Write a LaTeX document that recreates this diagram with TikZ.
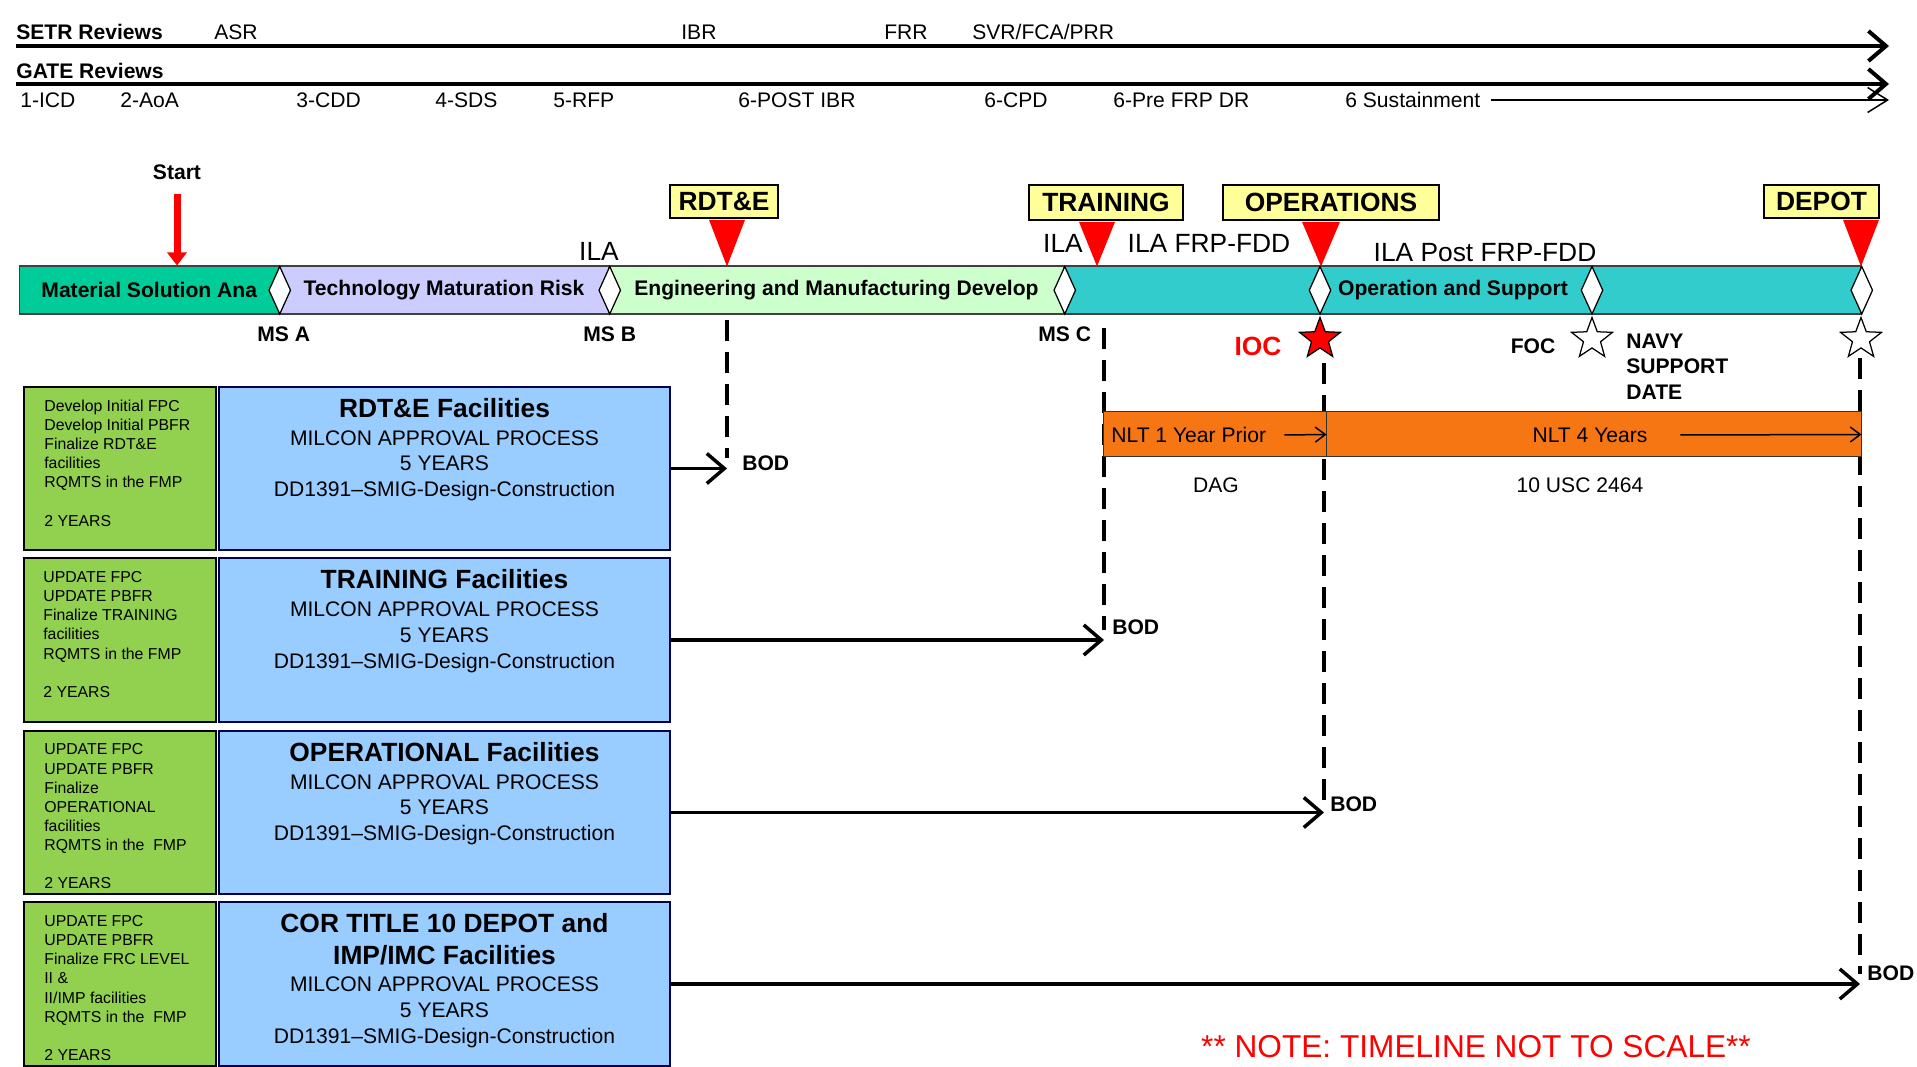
\documentclass[tikz,border=0pt]{standalone}
\usepackage{fontspec}
\setmainfont{Liberation Sans}
\usepackage{tikz}
\usetikzlibrary{shapes.geometric}
\usetikzlibrary{positioning}
\usetikzlibrary{calc}
\usetikzlibrary{arrows.meta}

\definecolor{masgreen}{RGB}{0,204,153}
\definecolor{tmrlilac}{RGB}{204,204,255}
\definecolor{emdgreen}{RGB}{204,255,204}
\definecolor{opsteal}{RGB}{51,204,204}
\definecolor{flagyellow}{RGB}{255,255,153}
\definecolor{reqgreen}{RGB}{146,208,80}
\definecolor{facblue}{RGB}{153,204,255}
\definecolor{nltorange}{RGB}{247,118,20}

\begin{document}
\begin{tikzpicture}
			[
				x = 0.2mm, y = -0.2mm,
				txt/.style = {inner sep = 0, font = \fontsize{12}{14.5}\selectfont},
				btxt/.style = {inner sep = 0, font = \fontsize{12}{14.5}\selectfont\bfseries},
				big/.style = {inner sep = 0, font = \fontsize{15}{18}\selectfont},
				revline/.style = {line width = 0.8mm, -{Straight Barb[length = 3.5mm, width = 6mm]}},
				thinrev/.style = {line width = 0.3mm, -{Straight Barb[length = 4mm, width = 5mm]}},
				phase/.style = {rectangle, draw = black!75, line width = 0.3mm, inner sep = 0, minimum height = 9.6mm, font = \fontsize{12}{14.5}\selectfont\bfseries},
				gatemark/.style = {diamond, draw = black, line width = 0.25mm, fill = white, inner sep = 0, minimum width = 4.4mm, minimum height = 9.6mm},
				startarrow/.style = {red, line width = 1.4mm, -{Triangle[width = 3.8mm, length = 2.6mm]}},
				flag/.style = {rectangle, draw = black, line width = 0.35mm, fill = flagyellow, inner sep = 0, font = \fontsize{15}{18}\selectfont\bfseries},
				msline/.style = {line width = 0.7mm, dash pattern = on 4.2mm off 2.2mm},
				mstar/.style = {star, star points = 5, star point ratio = 2.4, draw = black, line width = 0.25mm, fill = white, minimum size = 8.6mm, inner sep = 0},
				nlt/.style = {rectangle, draw = black!80, line width = 0.2mm, fill = nltorange, inner sep = 0, minimum height = 9mm},
				thinarrow/.style = {line width = 0.3mm, -{Straight Barb[length = 2mm, width = 3mm]}},
				req/.style = {rectangle, draw = black, line width = 0.4mm, fill = reqgreen, minimum width = 38.3mm, minimum height = 32.6mm, inner sep = 0},
				reqtxt/.style = {inner sep = 0, align = left, font = \fontsize{9}{10.9}\selectfont},
				fac/.style = {rectangle, draw = black!70!blue, line width = 0.4mm, fill = facblue, minimum width = 90.2mm, minimum height = 32.6mm, inner sep = 0},
				factxt/.style = {inner sep = 0, align = center, font = \fontsize{12}{14.7}\selectfont},
				bodarrow/.style = {line width = 0.7mm, -{Straight Barb[length = 3.5mm, width = 6mm]}},
			]
			\useasboundingbox (0,0) rectangle (1917,1067);

			\node (setr) [btxt, anchor = west] at (16, 32) {SETR Reviews};
			\node (asr) [txt, anchor = west] at (214, 32) {ASR};
			\node (ibr) [txt, anchor = west] at (681, 32) {IBR};
			\node (frr) [txt, anchor = west] at (884, 32) {FRR};
			\node (svr) [txt, anchor = west] at (972, 32) {SVR/FCA/PRR};
			\coordinate (setrA) at (16, 46);
			\coordinate (setrB) at (1889, 46);
			\draw [revline] (setrA) -- (setrB);

			\node (gate) [btxt, anchor = west] at (16, 71) {GATE Reviews};
			\coordinate (gateA) at (16, 84);
			\coordinate (gateB) at (1889, 84);
			\draw [revline] (gateA) -- (gateB);

			\node (icd) [txt, anchor = west] at (20, 100) {1-ICD};
			\node (aoa) [txt, anchor = west] at (120, 100) {2-AoA};
			\node (cdd) [txt, anchor = west] at (296, 100) {3-CDD};
			\node (sds) [txt, anchor = west] at (435, 100) {4-SDS};
			\node (rfp) [txt, anchor = west] at (553, 100) {5-RFP};
			\node (postibr) [txt, anchor = west] at (738, 100) {6-POST IBR};
			\node (cpd) [txt, anchor = west] at (984, 100) {6-CPD};
			\node (prefrp) [txt, anchor = west] at (1113, 100) {6-Pre FRP DR};
			\node (sust) [txt, anchor = west] at (1345, 100) {6 Sustainment};
			\coordinate (sustB) at (1889, 100);
			\draw [thinrev] ([xshift = 2mm] sust.east) -- (sustB);

			\node (mas) [phase, fill = masgreen, minimum width = 51.9mm] at (149.25, 290.25) {Material Solution Ana};
			\node (tmr) [phase, fill = tmrlilac, minimum width = 66mm] at (444, 290.25) {Technology Maturation Risk};
			\node (emd) [phase, fill = emdgreen, minimum width = 91mm] at (836.5, 290.25) {Engineering and Manufacturing Develop};
			\node (os) [phase, fill = opsteal, minimum width = 159.4mm] at (1462.5, 290.25) {};
			\node (ostext) [btxt] at (1453, 290) {Operation and Support};

			\node (msA) [gatemark] at (mas.east) {};
			\node (msB) [gatemark] at (tmr.east) {};
			\node (msC) [gatemark] at (emd.east) {};
			\node (iocmark) [gatemark] at (1320, 290.25) {};
			\node (focmark) [gatemark] at (1592, 290.25) {};
			\node (nsdmark) [gatemark] at (os.east) {};

			\node (msAlbl) [btxt, below = 2.4mm of msA, xshift = 0.8mm] {MS A};
			\node (msBlbl) [btxt, below = 2.4mm of msB] {MS B};
			\node (msClbl) [btxt, below = 2.4mm of msC] {MS C};

			\node (ilaB) [big] at (599, 251) {ILA};
			\node (ilaC) [big] at (1063, 243) {ILA};
			\node (ilafrp) [big] at (1209, 243) {ILA FRP-FDD};
			\node (ilapost) [big] at (1485, 253) {ILA Post FRP-FDD};

			\node (start) [btxt] at (177, 172) {Start};
			\draw [startarrow] ([yshift = -2.9mm] start.south) -- (start |- mas.north);

			\node (rdte) [flag, minimum width = 21.6mm, minimum height = 6.6mm] at (724, 201.5) {RDT\&E};
			\node (trn) [flag, minimum width = 30.8mm, minimum height = 7mm] at (1106, 202.5) {TRAINING};
			\node (ops) [flag, minimum width = 43.2mm, minimum height = 7mm] at (1331, 202.5) {OPERATIONS};
			\node (dep) [flag, minimum width = 23mm, minimum height = 6.6mm] at (1821.5, 201.5) {DEPOT};

			\coordinate (rdtetip) at (727, 266.5);
			\coordinate (trntip) at (1097, 266.5);
			\coordinate (opstip) at (1321, 266.5);
			\coordinate (deptip) at (1861, 266.5);
			\fill [red] ($(rdtetip |- rdte.south)+(-18,1)$) -- ($(rdtetip |- rdte.south)+(18,1)$) -- (rdtetip) -- cycle;
			\fill [red] ($(trntip |- trn.south)+(-18,1)$) -- ($(trntip |- trn.south)+(18,1)$) -- (trntip) -- cycle;
			\fill [red] ($(opstip |- ops.south)+(-19,1)$) -- ($(opstip |- ops.south)+(19,1)$) -- (opstip) -- cycle;
			\fill [red] ($(deptip |- dep.south)+(-18,1)$) -- ($(deptip |- dep.south)+(18,1)$) -- (deptip) -- cycle;

			\coordinate (rdtetop) at (727, 320);
			\coordinate (rdtebod) at (727, 468.5);
			\coordinate (trntop) at (1104, 328);
			\coordinate (trnbod) at (1104, 640);
			\coordinate (opstop) at (1324, 363);
			\coordinate (opsbod) at (1324, 812.5);
			\coordinate (deptop) at (1860, 358);
			\coordinate (depbod) at (1860, 984);
			\draw [msline] (rdtetop) -- ([yshift = 2mm] rdtebod);
			\draw [msline] (trntop) -- ([yshift = 2mm] trnbod);
			\draw [msline] (opstop) -- ([yshift = 2mm] opsbod);
			\draw [msline] (deptop) -- ([yshift = 2mm] depbod);

			\node (iocstar) [mstar, fill = red] at (1320, 339) {};
			\node (focstar) [mstar] at (1592, 339) {};
			\node (nsdstar) [mstar] at (1861, 339) {};
			\node (ioclbl) [big, red, font = \fontsize{15}{18}\selectfont\bfseries] at (1258, 346) {IOC};
			\node (foclbl) [btxt] at (1533, 346) {FOC};
			\node (navy) [btxt, anchor = west, align = left] at (1626, 366.5) {NAVY\\SUPPORT\\DATE};

			\node (nlt1box) [nlt, minimum width = 44.6mm] at (1214.5, 434.5) {};
			\node (nlt4box) [nlt, minimum width = 107mm] at (1593.5, 434.5) {};
			\node (nlt1) [txt, anchor = west] at (1111, 435) {NLT 1 Year Prior};
			\draw [thinarrow] ([xshift = 3.6mm] nlt1.east) -- (nlt1box.east);
			\node (nlt4) [txt] at (1590, 435) {NLT 4 Years};
			\draw [thinarrow] ([xshift = 6.5mm] nlt4.east) -- (nlt4box.east);
			\node (dag) [txt] at (1216, 485) {DAG};
			\node (usc) [txt] at (1580, 485) {10 USC 2464};

			\node (rdtereq) [req] at (120.25, 468.5) {};
			\node (rdtereqtxt) [reqtxt, below right = 2.7mm and 4.1mm of rdtereq.north west] {Develop Initial FPC\\Develop Initial PBFR\\Finalize RDT\&E\\facilities\\RQMTS in the FMP\\[10.9pt]2 YEARS};
			\node (rdtefac) [fac] at (444.5, 468.5) {};
			\node (rdtetxt) [factxt, below = 2.4mm of rdtefac.north] {{\fontsize{15}{18}\selectfont\bfseries RDT\&E Facilities}\\[1pt]MILCON APPROVAL PROCESS\\5 YEARS\\DD1391–SMIG-Design-Construction};
			\draw [bodarrow] (rdtefac) -- (rdtebod);
			\node (bodR) [btxt, right = 3mm of rdtebod, yshift = 1mm] {BOD};

			\node (trnreq) [req] at (120.25, 640) {};
			\node (trnreqtxt) [reqtxt, below right = 2.7mm and 3.9mm of trnreq.north west] {UPDATE FPC\\UPDATE PBFR\\Finalize TRAINING\\facilities\\RQMTS in the FMP\\[10.9pt]2 YEARS};
			\node (trnfac) [fac] at (444.5, 640) {};
			\node (trntxt) [factxt, below = 2.4mm of trnfac.north] {{\fontsize{15}{18}\selectfont\bfseries TRAINING Facilities}\\[1pt]MILCON APPROVAL PROCESS\\5 YEARS\\DD1391–SMIG-Design-Construction};
			\draw [bodarrow] (trnfac) -- (trnbod);
			\node (bodT) [btxt, above right = 1mm and 1.6mm of trnbod] {BOD};

			\node (opsreq) [req] at (120.25, 812.5) {};
			\node (opsreqtxt) [reqtxt, below right = 2.7mm and 4.1mm of opsreq.north west] {UPDATE FPC\\UPDATE PBFR\\Finalize\\OPERATIONAL\\facilities\\RQMTS in the \ FMP\\[10.9pt]2 YEARS};
			\node (opsfac) [fac] at (444.5, 812.5) {};
			\node (opstxt) [factxt, below = 2.4mm of opsfac.north] {{\fontsize{15}{18}\selectfont\bfseries OPERATIONAL Facilities}\\[1pt]MILCON APPROVAL PROCESS\\5 YEARS\\DD1391–SMIG-Design-Construction};
			\draw [bodarrow] (opsfac) -- (opsbod);
			\node (bodO) [btxt, above right = 0mm and 1.2mm of opsbod] {BOD};

			\node (depreq) [req] at (120.25, 984) {};
			\node (depreqtxt) [reqtxt, below right = 2.7mm and 4.1mm of depreq.north west] {UPDATE FPC\\UPDATE PBFR\\Finalize FRC LEVEL\\II \&\\II/IMP facilities\\RQMTS in the \ FMP\\[10.9pt]2 YEARS};
			\node (depfac) [fac] at (444.5, 984) {};
			\node (deptxt) [factxt, below = 2.4mm of depfac.north] {{\fontsize{15}{18}\selectfont\bfseries COR TITLE 10 DEPOT and}\\[3pt]{\fontsize{15}{18}\selectfont\bfseries IMP/IMC Facilities}\\[1pt]MILCON APPROVAL PROCESS\\5 YEARS\\DD1391–SMIG-Design-Construction};
			\draw [bodarrow] (depfac) -- (depbod);
			\node (bodD) [btxt, above right = 0.5mm and 1.4mm of depbod] {BOD};

			\node (note) [txt, red, font = \fontsize{18}{21}\selectfont] at (1476, 1047) {** NOTE: TIMELINE NOT TO SCALE**};
		\end{tikzpicture}
\end{document}
